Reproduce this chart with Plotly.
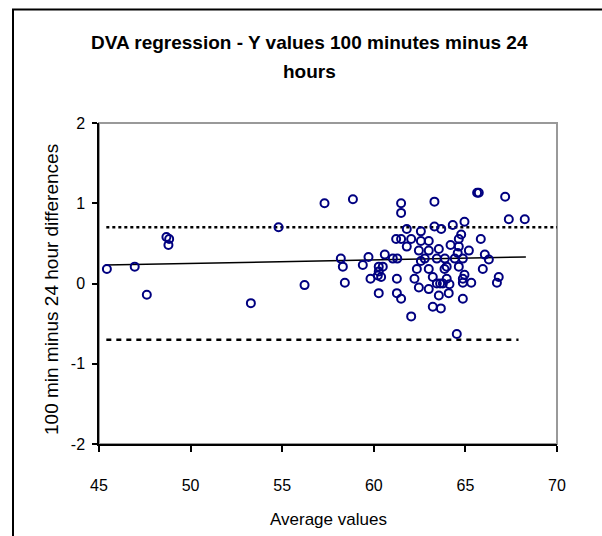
import plotly.graph_objects as go

# ---- data ----
avg_x = [45.43, 46.95, 47.61, 48.68, 48.83, 48.79, 53.29, 54.80, 56.22,
         57.31, 58.86, 61.49, 61.49, 63.31, 65.64, 65.73, 67.17, 67.37, 68.24,
         61.80, 62.57, 63.31, 63.68, 64.31, 64.95,
         61.22, 61.49, 62.04, 62.57, 63.00, 61.80, 62.46, 63.00, 63.55, 64.19, 64.64, 64.77, 64.64, 65.19, 65.84,
         60.60, 59.71, 58.20, 58.31, 59.40, 61.04, 61.28, 62.57, 62.78, 63.44, 63.88, 64.42, 64.86, 64.58, 66.06, 66.28,
         60.27, 60.49, 60.27, 62.35, 63.00, 63.86, 63.98, 64.64, 65.95,
         59.82, 60.40, 60.22, 61.26, 62.22, 63.22, 63.98, 64.95, 64.86, 66.82,
         58.42, 63.44, 63.62, 63.77, 64.13, 64.86, 65.32, 66.72,
         62.46, 63.00, 60.27, 61.26, 61.49, 63.55, 64.09, 64.86,
         63.22, 63.66, 62.04, 64.53]
diff_y = [0.18, 0.21, -0.14, 0.58, 0.555, 0.48, -0.245, 0.70, -0.02,
          1.00, 1.05, 1.00, 0.88, 1.02, 1.13, 1.13, 1.08, 0.80, 0.80,
          0.68, 0.65, 0.71, 0.68, 0.73, 0.77,
          0.555, 0.555, 0.555, 0.53, 0.53, 0.46, 0.41, 0.41, 0.43, 0.48, 0.555, 0.61, 0.46, 0.41, 0.555,
          0.36, 0.33, 0.31, 0.21, 0.23, 0.31, 0.31, 0.28, 0.31, 0.31, 0.31, 0.31, 0.31, 0.38, 0.36, 0.30,
          0.21, 0.21, 0.15, 0.18, 0.18, 0.18, 0.21, 0.21, 0.18,
          0.06, 0.08, 0.10, 0.06, 0.06, 0.08, 0.06, 0.11, 0.06, 0.08,
          0.01, 0.00, 0.00, 0.00, -0.01, 0.01, 0.01, 0.01,
          -0.05, -0.07, -0.12, -0.12, -0.19, -0.15, -0.12, -0.19,
          -0.29, -0.31, -0.41, -0.63]

reg_x = [45.35, 68.3]
reg_y = [0.23, 0.33]

upper_x = [45.4, 70.0]
upper_y = [0.70, 0.70]
lower_x = [45.4, 67.9]
lower_y = [-0.70, -0.70]

x_ticks = [45, 50, 55, 60, 65, 70]
y_ticks = [-2, -1, 0, 1, 2]

FONT = "Liberation Sans, Arial, sans-serif"

W, H = 602, 536
L, R, T, B = 99, 557, 123, 444  # plot area pixels


def px2paper_x(px):
    return (px - L) / (R - L)


def px2paper_y(py):
    return (B - py) / (B - T)


fig = go.Figure()

fig.add_trace(go.Scatter(x=upper_x, y=upper_y, mode="lines",
                         line=dict(color="black", width=2.5, dash="3px,3px"),
                         hoverinfo="skip", showlegend=False))
fig.add_trace(go.Scatter(x=lower_x, y=lower_y, mode="lines",
                         line=dict(color="black", width=2.5, dash="5px,5px"),
                         hoverinfo="skip", showlegend=False))
fig.add_trace(go.Scatter(x=reg_x, y=reg_y, mode="lines",
                         line=dict(color="black", width=1.5),
                         hoverinfo="skip", showlegend=False))
fig.add_trace(go.Scatter(x=avg_x, y=diff_y, mode="markers",
                         marker=dict(symbol="circle-open", size=8, color="#000080",
                                     line=dict(width=2, color="#000080")),
                         showlegend=False))

fig.update_layout(
    width=W, height=H,
    margin=dict(l=L, r=W - R, t=T, b=H - B, pad=0),
    paper_bgcolor="white", plot_bgcolor="white",
    font=dict(family=FONT, color="black"),
    showlegend=False,
    xaxis=dict(range=[45, 70], tickvals=x_ticks, ticktext=[str(v) for v in x_ticks],
               showgrid=False, zeroline=False, showline=True, linecolor="black", linewidth=1.5,
               ticks="outside", ticklen=6, tickwidth=1.5, tickcolor="black",
               tickfont=dict(size=16, family=FONT), ticklabelstandoff=20),
    yaxis=dict(range=[-2, 2], tickvals=y_ticks, ticktext=[str(v) for v in y_ticks],
               showgrid=False, zeroline=False, showline=True, linecolor="black", linewidth=1.5,
               ticks="outside", ticklen=5, tickwidth=1.5, tickcolor="black",
               tickfont=dict(size=16, family=FONT), ticklabelstandoff=4),
    shapes=[
        dict(type="rect", xref="paper", yref="paper", x0=0, x1=1, y0=0, y1=1,
             line=dict(color="#999999", width=2), layer="below"),
        dict(type="rect", xref="paper", yref="paper",
             x0=px2paper_x(13), x1=px2paper_x(612), y0=px2paper_y(546), y1=px2paper_y(9.5),
             line=dict(color="black", width=2), layer="below"),
    ],
    annotations=[
        dict(text="<b>DVA regression - Y values 100 minutes minus 24</b>", xref="paper", yref="paper",
             x=px2paper_x(309), y=px2paper_y(42), xanchor="center", yanchor="middle",
             showarrow=False, font=dict(size=19, family=FONT)),
        dict(text="<b>hours</b>", xref="paper", yref="paper",
             x=px2paper_x(309), y=px2paper_y(71), xanchor="center", yanchor="middle",
             showarrow=False, font=dict(size=19, family=FONT)),
        dict(text="Average values", xref="paper", yref="paper",
             x=0.5, y=px2paper_y(519), xanchor="center", yanchor="middle",
             showarrow=False, font=dict(size=17, family=FONT)),
        dict(text="100 min minus 24 hour differences", xref="paper", yref="paper",
             x=px2paper_x(51), y=px2paper_y(290), xanchor="center", yanchor="middle",
             textangle=-90, showarrow=False, font=dict(size=19, family=FONT)),
    ],
)

fig.write_html("out.html")
